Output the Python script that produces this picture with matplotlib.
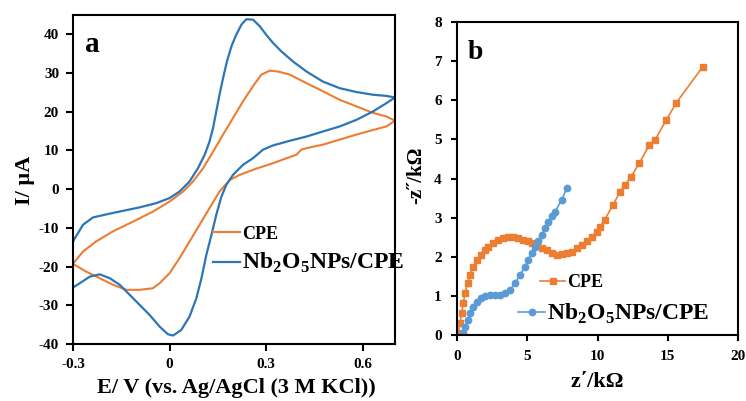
import matplotlib
matplotlib.use('Agg')
import matplotlib.pyplot as plt

plt.rcParams['font.family'] = ['Liberation Serif', 'DejaVu Serif']
plt.rcParams['font.weight'] = 'bold'
plt.rcParams['axes.unicode_minus'] = False
plt.rcParams['mathtext.fontset'] = 'custom'
plt.rcParams['mathtext.rm'] = 'Liberation Serif:bold'
plt.rcParams['mathtext.bf'] = 'Liberation Serif:bold'

# ---- panel a: cyclic voltammograms (anodic sweep then cathodic sweep) ----
e_cpe = [-0.300, -0.269, -0.228, -0.176, -0.114, -0.052, 0.000, 0.042, 0.073, 0.104,
         0.135, 0.166, 0.197, 0.228, 0.259, 0.285, 0.311, 0.337, 0.373, 0.425,
         0.476, 0.528, 0.580, 0.632, 0.673, 0.700,
         0.673, 0.632, 0.580, 0.528, 0.476, 0.425, 0.409, 0.394, 0.363, 0.321,
         0.269, 0.218, 0.187, 0.155, 0.124, 0.093, 0.062, 0.031, 0.000, -0.031,
         -0.052, -0.093, -0.134, -0.176, -0.217, -0.259, -0.300]
i_cpe = [-19.3, -16.1, -13.5, -10.9, -8.4, -5.8, -3.2, -0.6, 2.0, 5.4,
         9.7, 14.1, 18.4, 22.7, 26.6, 29.6, 30.6, 30.4, 29.6, 27.4,
         25.3, 23.1, 21.4, 19.7, 18.8, 17.7,
         16.2, 15.3, 14.1, 12.8, 11.5, 10.6, 10.2, 8.9, 8.0, 6.7,
         5.3, 3.7, 2.4, -0.6, -4.9, -9.2, -13.5, -17.8, -21.7, -24.3,
         -25.6, -26.0, -26.0, -24.7, -23.0, -21.3, -19.3]

e_nb = [-0.300, -0.269, -0.238, -0.196, -0.145, -0.093, -0.041, 0.000, 0.031, 0.062,
        0.088, 0.109, 0.124, 0.135, 0.145, 0.155, 0.166, 0.178, 0.192, 0.207,
        0.223, 0.238, 0.259, 0.280, 0.300, 0.321, 0.347, 0.383, 0.425, 0.476,
        0.528, 0.580, 0.632, 0.673, 0.700,
        0.673, 0.632, 0.580, 0.528, 0.476, 0.425, 0.373, 0.321, 0.290, 0.259,
        0.228, 0.197, 0.176, 0.161, 0.145, 0.130, 0.114, 0.099, 0.083, 0.062,
        0.036, 0.011, -0.005, -0.031, -0.062, -0.093, -0.124, -0.155, -0.186, -0.217,
        -0.248, -0.279, -0.300]
i_nb = [-13.5, -9.2, -7.3, -6.5, -5.6, -4.7, -3.6, -2.3, -0.6, 2.0,
        5.4, 8.9, 12.3, 15.8, 20.1, 24.4, 28.7, 33.0, 36.9, 39.9,
        42.5, 43.9, 43.8, 42.1, 39.9, 37.8, 35.6, 33.0, 30.4, 27.8,
        26.1, 25.1, 24.4, 24.1, 23.7,
        22.2, 20.1, 17.9, 16.2, 14.9, 13.6, 12.5, 11.3, 10.2, 8.0,
        6.3, 3.7, 1.1, -1.9, -6.6, -11.8, -17.0, -23.0, -28.2, -32.9,
        -36.4, -37.8, -37.5, -35.5, -32.5, -29.9, -27.3, -24.7, -23.0, -22.0,
        -22.6, -24.3, -25.4]

# ---- panel b: Nyquist plots (kOhm) ----
zr_cpe = [0.09, 0.21, 0.33, 0.45, 0.57, 0.76, 0.93, 1.16, 1.40, 1.71,
          1.99, 2.23, 2.58, 2.94, 3.30, 3.65, 4.01, 4.36, 4.72, 5.08,
          5.36, 5.67, 6.03, 6.38, 6.74, 7.09, 7.45, 7.81, 8.16, 8.52,
          8.87, 9.23, 9.59, 9.94, 10.2, 10.5, 11.1, 11.6, 11.96, 12.4,
          12.97, 13.7, 14.1, 14.9, 15.6, 17.5]
zi_cpe = [0.04, 0.30, 0.55, 0.81, 1.07, 1.32, 1.53, 1.75, 1.92, 2.05,
          2.17, 2.24, 2.34, 2.43, 2.47, 2.50, 2.50, 2.47, 2.43, 2.39,
          2.34, 2.28, 2.22, 2.16, 2.09, 2.05, 2.06, 2.09, 2.13, 2.22,
          2.30, 2.39, 2.51, 2.64, 2.77, 2.94, 3.32, 3.66, 3.84, 4.05,
          4.39, 4.86, 4.99, 5.50, 5.93, 6.86]

zr_nb = [0.45, 0.57, 0.76, 0.93, 1.16, 1.40, 1.71, 1.99, 2.35, 2.70,
         3.06, 3.42, 3.77, 4.13, 4.48, 4.84, 5.08, 5.32, 5.55, 5.79,
         6.03, 6.26, 6.50, 6.74, 6.97, 7.45, 7.80]
zi_nb = [0.04, 0.21, 0.38, 0.55, 0.72, 0.85, 0.94, 1.00, 1.02, 1.02,
         1.02, 1.07, 1.15, 1.32, 1.53, 1.75, 1.92, 2.09, 2.26, 2.39,
         2.56, 2.73, 2.90, 3.03, 3.15, 3.45, 3.75]

orange = '#ED7D31'
blue_cv = '#2E75B6'
blue_eis = '#5B9BD5'

fig = plt.figure(figsize=(7.46, 4.01), dpi=100)

# left panel
ax1 = fig.add_axes([73 / 746, 1 - 344 / 401, 322 / 746, 329 / 401])
ax1.plot(e_cpe, i_cpe, color=orange, lw=1.5, label='CPE')
ax1.plot(e_nb, i_nb, color=blue_cv, lw=1.6,
         label=r'Nb$_\mathbf{2}$O$_\mathbf{5}$NPs/CPE')
ax1.set_xlim(-0.3, 0.7)
ax1.set_ylim(-40, 45)
ax1.set_xticks([-0.3, 0, 0.3, 0.6])
ax1.set_xticklabels(['-0.3', '0', '0.3', '0.6'])
ax1.set_yticks(range(-40, 41, 10))
ax1.tick_params(direction='out', length=5, width=1.5, labelsize=11, pad=5)
for s in ax1.spines.values():
    s.set_linewidth(1.5)
ax1.text(0.059, 0.909, 'a', transform=ax1.transAxes, fontsize=21,
         fontweight='bold', ha='center', va='center')
leg1 = ax1.legend(loc='upper left', bbox_to_anchor=(0.435, 0.36), frameon=False,
                  fontsize=13, handlelength=1.5, handletextpad=0.1,
                  borderpad=0, borderaxespad=0, labelspacing=0.45)
leg1.get_texts()[1].set_fontsize(17)

# right panel
ax2 = fig.add_axes([457 / 746, 1 - 335 / 401, 281 / 746, 313 / 401])
l_cpe, = ax2.plot(zr_cpe, zi_cpe, color=orange, lw=1.2, marker='s', ms=4.6,
                  label='CPE')
l_nb, = ax2.plot(zr_nb, zi_nb, color=blue_eis, lw=1.2, marker='o', ms=4.6,
                 label=r'Nb$_\mathbf{2}$O$_\mathbf{5}$NPs/CPE')
ax2.set_xlim(0, 20)
ax2.set_ylim(0, 8)
ax2.set_xticks([0, 5, 10, 15, 20])
ax2.set_yticks(range(0, 9))
ax2.tick_params(direction='out', length=4, width=1.5, labelsize=11, pad=7)
for s in ax2.spines.values():
    s.set_linewidth(1.5)
ax2.text(0.064, 0.904, 'b', transform=ax2.transAxes, fontsize=20,
         fontweight='bold', ha='center', va='center')
lg_a = ax2.legend(handles=[l_cpe], loc='upper left', bbox_to_anchor=(0.295, 0.195),
                  frameon=False, fontsize=13, handlelength=1.4, handletextpad=0.1,
                  borderpad=0, borderaxespad=0)
ax2.add_artist(lg_a)
ax2.legend(handles=[l_nb], loc='upper left', bbox_to_anchor=(0.217, 0.105),
           frameon=False, fontsize=17, handlelength=1.15, handletextpad=0.1,
           borderpad=0, borderaxespad=0)

# axis titles
fig.text(25 / 746, 1 - 180 / 401, 'I/ µA', rotation=90, fontsize=16,
         fontweight='bold', ha='center', va='center')
fig.text(236 / 746, 1 - 388 / 401, 'E/ V (vs. Ag/AgCl (3 M KCl))', fontsize=16,
         fontweight='bold', ha='center', va='center')
fig.text(416 / 746, 1 - 175 / 401, '-z\u02dd/k\u03a9', rotation=90, fontsize=15,
         fontweight='bold', ha='center', va='center')
fig.text(597 / 746, 1 - 382 / 401, 'z\u0384/k\u03a9', fontsize=16,
         fontweight='bold', ha='center', va='center')

fig.savefig('out.png', dpi=100)
